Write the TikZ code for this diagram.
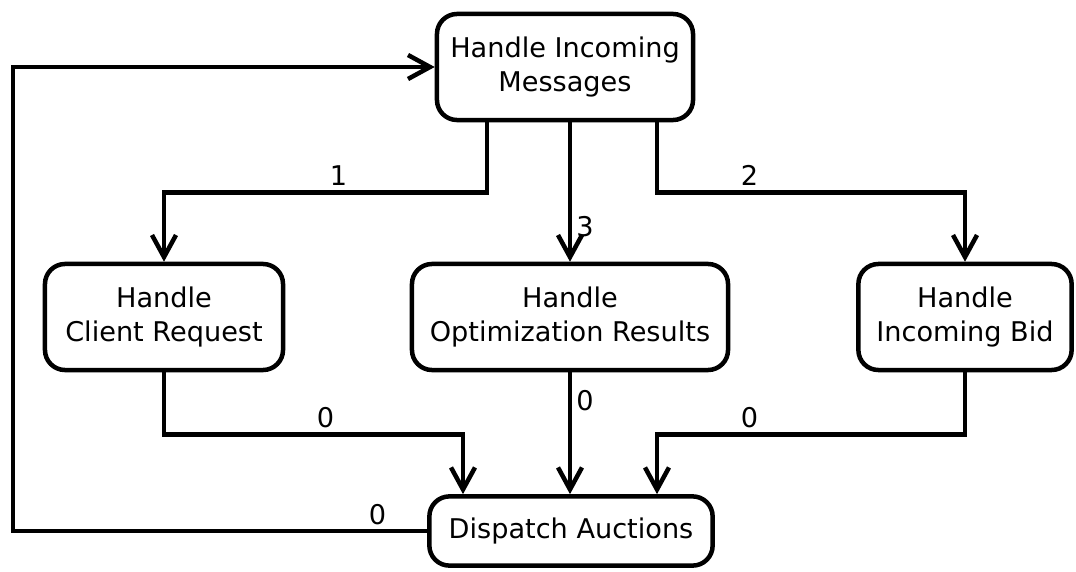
\documentclass[tikz,border=0pt]{standalone}
\usepackage{fontspec}
\setmainfont{DejaVu Sans}
\usepackage{tikz}
\usetikzlibrary{arrows.meta,positioning,calc}

\begin{document}
\begin{tikzpicture}[
    x=0.025cm, y=-0.025cm,
    box/.style={draw, rounded corners=0.5cm, line width=3.2pt, minimum height=2.65cm, align=center, font=\fontsize{19.3}{24.5}\selectfont},
    arr/.style={-{Straight Barb[length=0.55cm, width=0.6cm]}, line width=3.2pt},
    lbl/.style={font=\fontsize{19.3}{24.5}\selectfont, inner sep=3pt}
]
\useasboundingbox (0,0) rectangle (1076,571);

\node[box, minimum width=6.4cm] (him) at (565,67) {Handle Incoming\\Messages};
\node[box, minimum width=5.95cm] (hcr) at (164,317) {Handle\\Client Request};
\node[box, minimum width=7.9cm] (hor) at (570,317) {Handle\\Optimization Results};
\node[box, minimum width=5.33cm] (hib) at (965,317) {Handle\\Incoming Bid};
\node[box, minimum width=7.08cm, minimum height=1.73cm] (da) at (571,531) {Dispatch Auctions};

\draw[arr] ($(him.south)+(-78,0)$) -- ++(0,70) -| node[lbl, pos=0.23, above] {1} (hcr.north);
\draw[arr] (hor.north |- him.south) -- node[lbl, pos=0.75, right] {3} (hor.north);
\draw[arr] ($(him.south)+(92,0)$) -- ++(0,70) -| node[lbl, pos=0.15, above] {2} (hib.north);

\draw[arr] (hcr.south) -- ++(0,62) -| node[lbl, pos=0.27, above] {0} ($(da.north)+(-108,0)$);
\draw[arr] (hor.south) -- node[lbl, pos=0.23, right] {0} (hor.south |- da.north);
\draw[arr] (hib.south) -- ++(0,62) -| node[lbl, pos=0.35, above] {0} ($(da.north)+(86,0)$);

\draw[arr] (da.west) -- node[lbl, pos=0.12, above] {0} ++(-414,0) |- (him.west);
\end{tikzpicture}
\end{document}
